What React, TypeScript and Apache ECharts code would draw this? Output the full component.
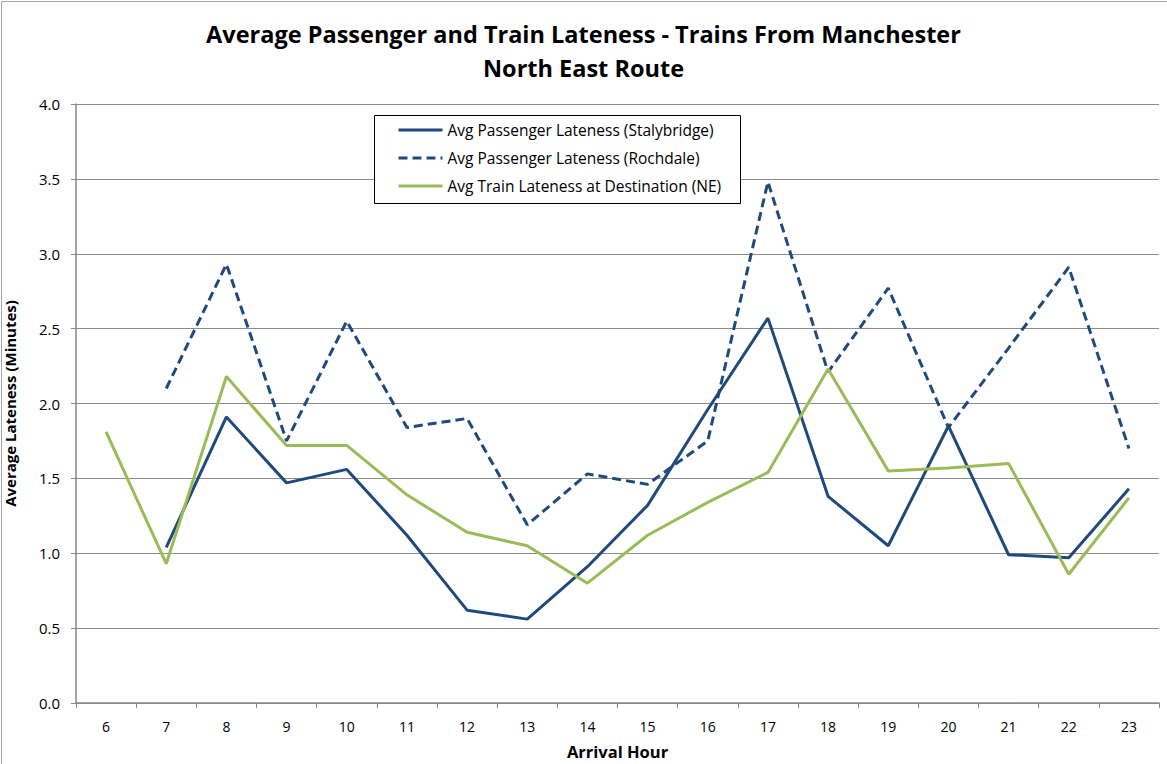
import React, { useEffect, useRef } from "react";
import * as echarts from "echarts";

const hours = ["6", "7", "8", "9", "10", "11", "12", "13", "14", "15", "16", "17", "18", "19", "20", "21", "22", "23"];
const stalybridge = [null, 1.04, 1.91, 1.47, 1.56, 1.12, 0.62, 0.56, 0.91, 1.32, 1.96, 2.57, 1.38, 1.05, 1.85, 0.99, 0.97, 1.43];
const rochdale = [null, 2.1, 2.93, 1.75, 2.55, 1.84, 1.9, 1.19, 1.53, 1.46, 1.75, 3.48, 2.21, 2.77, 1.84, 2.37, 2.91, 1.7];
const trainNE = [1.81, 0.93, 2.18, 1.72, 1.72, 1.39, 1.14, 1.05, 0.8, 1.12, 1.34, 1.54, 2.23, 1.55, 1.57, 1.6, 0.86, 1.37];
const yTicks = [0, 0.5, 1, 1.5, 2, 2.5, 3, 3.5, 4];

const FONT = "'Open Sans', Lato, sans-serif";
const BLUE = "#1F4A7D";
const GREEN = "#9BBB59";
const GRID = "#8C8C8C";

export default function App() {
  const ref = useRef<HTMLDivElement>(null);
  useEffect(() => {
    if (!ref.current) return;
    const chart = echarts.init(ref.current, undefined, { renderer: "svg" });
    chart.setOption({
      animation: false,
      backgroundColor: "#fff",
      textStyle: { fontFamily: FONT },
      title: {
        text: "Average Passenger and Train Lateness - Trains From Manchester\nNorth East Route",
        left: "center",
        top: 12,
        textStyle: { fontFamily: FONT, fontSize: 23.5, fontWeight: "bold", color: "#000", lineHeight: 34 },
      },
      graphic: [
        {
          type: "rect",
          shape: { x: 1.5, y: 1.5, width: 1300, height: 900 },
          style: { fill: "none", stroke: "#A6A6A6", lineWidth: 1 },
          silent: true,
        },
        {
          type: "rect",
          shape: { x: 374.5, y: 115.5, width: 366, height: 88 },
          style: { fill: "#fff", stroke: "#000", lineWidth: 1 },
          z: 50,
          silent: true,
        },
      ],
      legend: {
        orient: "vertical",
        left: 397,
        top: 122,
        itemWidth: 44,
        itemHeight: 14,
        itemGap: 12,
        padding: 0,
        z: 60,
        itemStyle: { opacity: 0 },
        lineStyle: { width: 3 },
        textStyle: { fontFamily: FONT, fontSize: 15.5, color: "#000" },
        data: [
          "Avg Passenger Lateness (Stalybridge)",
          "Avg Passenger Lateness (Rochdale)",
          "Avg Train Lateness at Destination (NE)",
        ],
      },
      grid: { left: 76, top: 104, right: 8, bottom: 61, containLabel: false, outerBoundsMode: "none" },
      xAxis: {
        type: "category",
        data: hours,
        boundaryGap: true,
        name: "Arrival Hour",
        nameLocation: "middle",
        nameGap: 40,
        nameTextStyle: { fontFamily: FONT, fontSize: 16.5, fontWeight: "bold", color: "#000" },
        axisLine: { lineStyle: { color: "#868686", width: 1.5 } },
        axisTick: { show: true, length: 5, alignWithLabel: false, lineStyle: { color: "#868686" } },
        axisLabel: { color: "#000", fontSize: 14, margin: 16, fontFamily: FONT },
        splitLine: { show: false },
      },
      yAxis: {
        type: "value",
        min: 0,
        max: 4,
        interval: 0.5,
        name: "Average Lateness (Minutes)",
        nameLocation: "middle",
        nameGap: 59,
        nameTextStyle: { fontFamily: FONT, fontSize: 15, fontWeight: "bold", color: "#000" },
        axisLine: { show: true, lineStyle: { color: "#868686", width: 1.5 } },
        axisTick: { show: true, length: 5, lineStyle: { color: "#868686" } },
        axisLabel: {
          color: "#000",
          fontSize: 15,
          margin: 16,
          fontFamily: FONT,
          formatter: (v: number) => (yTicks.includes(v) ? v.toFixed(1) : ""),
        },
        splitLine: { show: true, lineStyle: { color: GRID, width: 1 } },
      },
      series: [
        {
          name: "Avg Passenger Lateness (Stalybridge)",
          type: "line",
          data: stalybridge,
          symbol: "none",
          connectNulls: false,
          lineStyle: { color: BLUE, width: 3 },
          itemStyle: { color: BLUE },
        },
        {
          name: "Avg Passenger Lateness (Rochdale)",
          type: "line",
          data: rochdale,
          symbol: "none",
          lineStyle: { color: BLUE, width: 3, type: [9, 5] },
          itemStyle: { color: BLUE },
        },
        {
          name: "Avg Train Lateness at Destination (NE)",
          type: "line",
          data: trainNE,
          symbol: "none",
          lineStyle: { color: GREEN, width: 3 },
          itemStyle: { color: GREEN },
        },
      ],
    });
    return () => chart.dispose();
  }, []);
  return <div ref={ref} style={{ position: "fixed", left: 0, top: 0, width: 1167, height: 764 }} />;
}
